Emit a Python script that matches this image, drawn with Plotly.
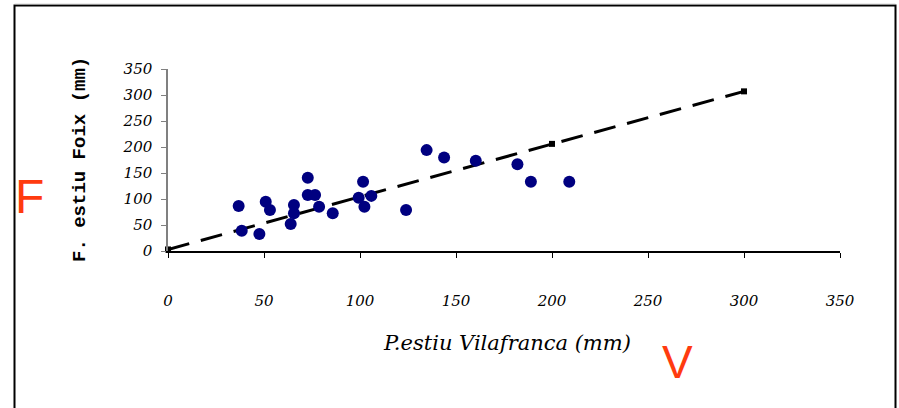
import plotly.graph_objects as go

# Scatter data: P. estiu Vilafranca (x) vs P. estiu Foix (y), mm
vil_x = [36.8, 38.4, 47.6, 50.9, 53.1, 63.9, 65.6, 65.6, 72.8, 72.8, 76.6, 78.7,
         85.8, 99.3, 101.6, 102.3, 105.9, 107.6, 124.0, 134.7, 143.8, 160.3,
         182.0, 189.0, 209.0]
foix_y = [86.5, 39.0, 32.7, 94.8, 78.8, 52.0, 88.5, 72.5, 141.0, 107.7, 107.7, 85.0,
          72.5, 102.5, 133.0, 85.0, 106.0, 356.0, 79.0, 194.0, 180.0, 173.7,
          167.0, 133.0, 133.0]

# Dashed reference line
line_x = [0, 100, 200, 300]
line_y = [3, 104, 206, 307]

x_ticks = [0, 50, 100, 150, 200, 250, 300, 350]
y_ticks = [0, 50, 100, 150, 200, 250, 300, 350]

W, H = 899, 408
L, R, T, B = 168, 840, 69, 251  # plot area in pixels


def px(x):
    return (x - L) / (R - L)


def py(y):
    return (B - y) / (B - T)


fig = go.Figure()
fig.add_trace(go.Scatter(
    x=line_x, y=line_y, mode="lines+markers",
    line=dict(color="black", width=3, dash="22px,12px"),
    marker=dict(symbol="square", size=6, color="black"),
    cliponaxis=False, hoverinfo="skip", showlegend=False))
fig.add_trace(go.Scatter(
    x=vil_x, y=foix_y, mode="markers",
    marker=dict(color="#000080", size=12, line=dict(width=0)),
    cliponaxis=False, showlegend=False))

tick_font = dict(family="DejaVu Serif", size=15, color="black", style="italic")

fig.update_layout(
    width=W, height=H,
    margin=dict(l=L, r=W - R, t=T, b=H - B, pad=0),
    paper_bgcolor="white", plot_bgcolor="white",
    xaxis=dict(range=[0, 350], tickvals=x_ticks, ticktext=[str(v) for v in x_ticks],
               showgrid=False, zeroline=False, showline=True, linecolor="black",
               linewidth=1.5, ticks="outside", ticklen=5, tickcolor="black",
               tickfont=tick_font, ticklabelstandoff=30, fixedrange=True),
    yaxis=dict(range=[0, 350], tickvals=y_ticks, ticktext=[str(v) for v in y_ticks],
               showgrid=False, zeroline=False, showline=True, linecolor="#808080",
               linewidth=1.5, ticks="outside", ticklen=5, tickcolor="#808080",
               tickfont=tick_font, ticklabelstandoff=6, fixedrange=True),
    shapes=[
        dict(type="rect", xref="paper", yref="paper",
             x0=px(14.5), x1=px(895.5), y0=py(420), y1=py(5.5),
             line=dict(color="black", width=2), layer="below"),
        dict(type="line", xref="paper", yref="paper",
             x0=px(14.5), x1=px(895.5), y0=py(4.3), y1=py(4.3),
             line=dict(color="#999999", width=1)),
    ],
    annotations=[
        dict(text="F. estiu Foix (mm)", xref="paper", yref="paper",
             x=px(80), y=py(160), xanchor="center", yanchor="middle",
             textangle=-90, showarrow=False,
             font=dict(family="Liberation Mono", size=19, color="black", weight="bold")),
        dict(text="P.estiu Vilafranca (mm)", xref="paper", yref="paper",
             x=px(507), y=py(343), xanchor="center", yanchor="middle",
             showarrow=False,
             font=dict(family="DejaVu Serif", size=21, color="black", style="italic")),
        dict(text="F", xref="paper", yref="paper", x=px(29), y=py(196),
             xanchor="center", yanchor="middle", showarrow=False,
             font=dict(family="Liberation Sans", size=48, color="#FF3B0F")),
        dict(text="V", xref="paper", yref="paper", x=px(677), y=py(362),
             xanchor="center", yanchor="middle", showarrow=False,
             font=dict(family="Liberation Sans", size=46, color="#FF3B0F")),
    ],
)

fig.write_html("out.html")
